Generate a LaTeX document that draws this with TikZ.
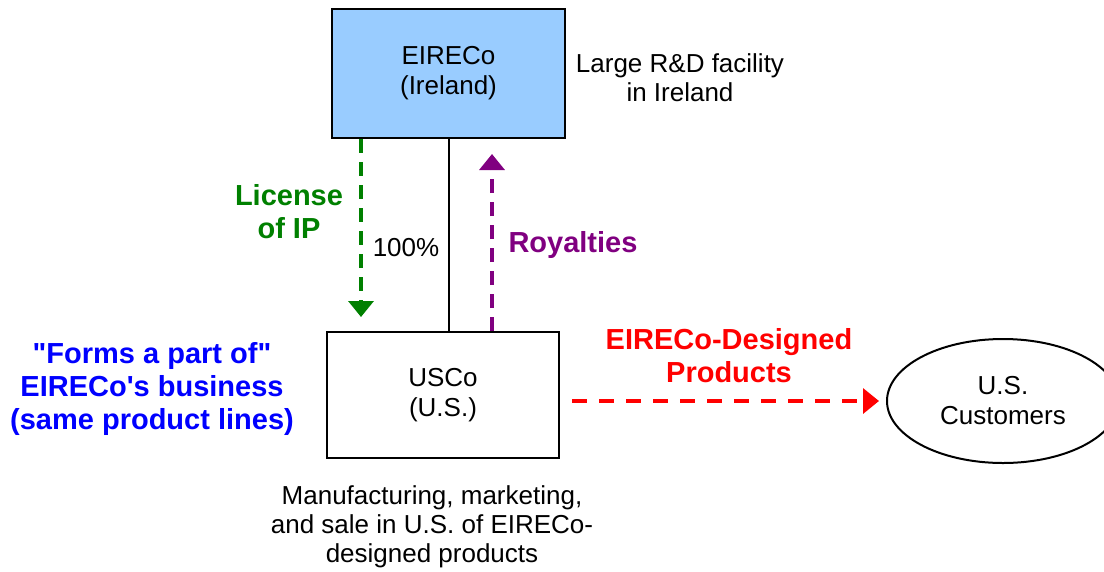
\documentclass[tikz,border=0pt]{standalone}
\usepackage{fontspec}
\setmainfont{Liberation Sans}[Ligatures=TeXOff]
\usepackage{tikz}
\usetikzlibrary{positioning,arrows.meta,shapes.geometric}
\definecolor{irlblue}{RGB}{153,204,255}
\definecolor{licgreen}{RGB}{0,128,0}
\definecolor{roypurple}{RGB}{128,0,128}
\definecolor{prodred}{RGB}{255,0,0}
\definecolor{bizblue}{RGB}{0,0,255}
\tikzset{
  entity/.style ={draw=black, line width=2pt, align=center,
                  font=\fontsize{26}{30}\selectfont, inner sep=0pt},
  note/.style   ={align=center, font=\fontsize{26}{29}\selectfont, inner sep=0pt},
  bnote/.style  ={align=center, font=\fontsize{29}{33}\selectfont\bfseries, inner sep=0pt},
  dflow/.style  ={line width=3.5pt, dash pattern=on 14pt off 9pt,
                  -{Triangle[length=16pt,width=25pt]}},
}

\begin{document}
\begin{tikzpicture}[x=1pt,y=-1pt]
\useasboundingbox (0,0) rectangle (1104,571);
% entities
\node[entity, fill=irlblue, minimum width=233pt, minimum height=129pt] (eire) at (448.5,73.5) {EIRECo\\(Ireland)};
\node[entity, fill=white, minimum width=232pt, minimum height=126pt] (usco) at (443,395) {USCo\\(U.S.)};
\node[entity, ellipse, minimum width=232pt, minimum height=124pt] (cust) at (1003,401) {U.S.\\Customers};
% ownership and flows
\draw[line width=2pt] (eire.south) -- (eire.south |- usco.north);
\draw[dflow, licgreen, shorten >=14pt] ([xshift=30pt]eire.south west) -- ([xshift=30pt]eire.south west |- usco.north);
\draw[dflow, roypurple, shorten >=15pt] ([xshift=166pt]usco.north west) -- ([xshift=166pt]usco.north west |- eire.south);
\draw[dflow, prodred, dash pattern=on 15pt off 12pt, shorten <=12pt, shorten >=7pt] (usco.east |- cust.west) -- (cust.west);
% labels
\node[note] (rdnote) at (680,78) {Large R\&D facility\\in Ireland};
\node[bnote, licgreen] (lic) at (289,212) {License\\of IP};
\node[note] (pct) at (406,248) {100\%};
\node[bnote, roypurple] (roy) at (573,245) {Royalties};
\node[bnote, prodred] (prod) at (729,356) {EIRECo-Designed\\Products};
\node[bnote, bizblue] (biz) at (152,389) {"Forms a part of"\\EIRECo's business\\(same product lines)};
\node[note] (mfg) at (432,527) {Manufacturing, marketing,\\and sale in U.S. of EIRECo-\\designed products};
\end{tikzpicture}
\end{document}
